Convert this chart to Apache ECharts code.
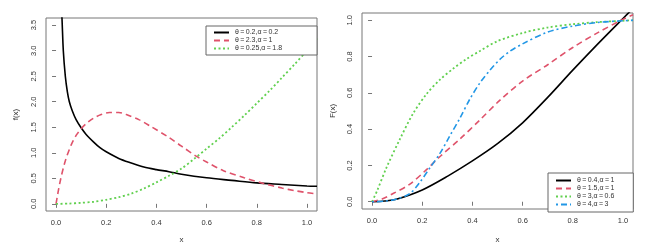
<!DOCTYPE html>
<html><head><meta charset="utf-8">
<script src="https://cdn.jsdelivr.net/npm/echarts@6/dist/echarts.min.js"></script>
<style>html,body{margin:0;padding:0;background:#fff}#c{width:658px;height:249px}</style>
</head><body><div id="c"></div>
<script>
// ---- Left panel: densities f(x)
const pdfBlackX = [0.021,0.024,0.029,0.037,0.045,0.053,0.065,0.08,0.1,0.12,0.15,0.175,0.2,0.25,0.3,0.35,0.4,0.45,0.5,0.6,0.7,0.8,0.9,1.0,1.04];
const pdfBlackY = [3.9,3.6,3.0,2.5,2.2,2.0,1.82,1.65,1.49,1.36,1.21,1.10,1.02,0.89,0.8,0.72,0.67,0.63,0.58,0.51,0.46,0.41,0.38,0.35,0.345];
const pdfRedX = [0,0.01,0.02,0.03,0.04,0.06,0.08,0.1,0.12,0.15,0.18,0.213,0.25,0.28,0.33,0.373,0.45,0.5,0.56,0.6,0.667,0.75,0.827,0.9,0.95,1.0,1.04];
const pdfRedY = [0,0.28,0.52,0.72,0.89,1.15,1.34,1.47,1.57,1.68,1.75,1.79,1.79,1.75,1.65,1.53,1.30,1.13,0.93,0.82,0.65,0.51,0.40,0.31,0.26,0.22,0.195];
const pdfGreenX = [0,0.05,0.1,0.15,0.2,0.25,0.3,0.35,0.4,0.45,0.5,0.55,0.6,0.65,0.7,0.75,0.8,0.85,0.9,0.95,1.0,1.04];
const pdfGreenY = [0,0.005,0.02,0.04,0.08,0.13,0.2,0.3,0.42,0.55,0.69,0.88,1.08,1.28,1.5,1.73,1.97,2.21,2.47,2.73,3.0,3.24];
const pdfNames = ['θ\u2009=\u20090.2,α\u2009=\u20090.2','θ\u2009=\u20092.3,α\u2009=\u20091','θ\u2009=\u20090.25,α\u2009=\u20091.8'];
const pdfTicksX = [0,0.2,0.4,0.6,0.8,1.0];
const pdfTicksY = [0,0.5,1.0,1.5,2.0,2.5,3.0,3.5];

// ---- Right panel: CDFs F(x)
const cdfBlackX = [0,0.05,0.1,0.2,0.3,0.4,0.5,0.6,0.7,0.8,0.9,1.0,1.04];
const cdfBlackY = [0,0.004,0.015,0.065,0.14,0.225,0.32,0.435,0.575,0.725,0.87,1.01,1.065];
const cdfRedX = [0,0.04,0.084,0.151,0.217,0.27,0.35,0.43,0.51,0.6,0.7,0.8,0.9,1.0,1.04];
const cdfRedY = [0,0.015,0.045,0.097,0.177,0.248,0.345,0.451,0.56,0.665,0.755,0.85,0.932,1.005,1.03];
const cdfGreenX = [0,0.02,0.057,0.111,0.164,0.217,0.27,0.324,0.377,0.43,0.5,0.6,0.7,0.8,0.9,1.0,1.04];
const cdfGreenY = [0,0.06,0.186,0.345,0.487,0.593,0.672,0.734,0.787,0.831,0.885,0.93,0.96,0.978,0.99,0.997,1.0];
const cdfBlueX = [0,0.05,0.1,0.151,0.19,0.23,0.27,0.31,0.35,0.39,0.43,0.47,0.51,0.55,0.6,0.7,0.8,0.9,1.0,1.04];
const cdfBlueY = [0,0.003,0.015,0.045,0.106,0.186,0.265,0.363,0.46,0.566,0.655,0.725,0.785,0.83,0.87,0.935,0.968,0.988,0.997,1.0];
const cdfNames = ['θ\u2009=\u20090.4,α\u2009=\u20091','θ\u2009=\u20091.5,α\u2009=\u20091','θ\u2009=\u20093,α\u2009=\u20090.6','θ\u2009=\u20094,α\u2009=\u20093'];
const cdfTicksX = [0,0.2,0.4,0.6,0.8,1.0];
const cdfTicksY = [0,0.2,0.4,0.6,0.8,1.0];

const pair = (xs, ys) => xs.map((x, i) => [x, ys[i]]);
const C_BLACK = '#000000', C_RED = '#DF536B', C_GREEN = '#61D04F', C_BLUE = '#2297E6';
const font = 'Liberation Sans, Arial, sans-serif';
const lab = {color:'#333', fontSize:7.5, fontFamily:font};

function xAx(gi, ticks, nameGap){
  return {type:'value', gridIndex:gi, min:-0.04, max:1.04, name:'x', nameLocation:'middle', nameGap:nameGap,
    nameTextStyle:{color:'#333', fontSize:8, fontFamily:font},
    axisLine:{show:false}, splitLine:{show:false},
    axisTick:{show:true, customValues:ticks, length:4, inside:false, lineStyle:{color:'#777'}},
    axisLabel:Object.assign({customValues:ticks, margin:8, formatter:v=>v.toFixed(1)}, lab)};
}
function yAx(gi, mn, mx, ticks, name, nameGap){
  return {type:'value', gridIndex:gi, min:mn, max:mx, name:name, nameLocation:'middle', nameGap:nameGap, nameRotate:90,
    nameTextStyle:{color:'#333', fontSize:8, fontFamily:font},
    axisLine:{show:false}, splitLine:{show:false},
    axisTick:{show:true, customValues:ticks, length:4, lineStyle:{color:'#777'}},
    axisLabel:Object.assign({customValues:ticks, rotate:90, margin:8, formatter:v=>v.toFixed(1)}, lab)};
}
function ser(name, xi, yi, data, color, type, w){
  return {name:name, type:'line', xAxisIndex:xi, yAxisIndex:yi, data:data, showSymbol:false, symbol:'none',
    smooth:0.3, clip:true, silent:true, animation:false,
    lineStyle:{color:color, width:w||1.6, type:type, cap:'butt'}, itemStyle:{color:color}};
}
const legendCommon = {orient:'vertical', itemWidth:15, itemHeight:8,
  itemStyle:{color:'rgba(0,0,0,0)', borderWidth:0, borderColor:'rgba(0,0,0,0)'},
  borderColor:'#666', borderWidth:1, backgroundColor:'#fff',
  textStyle:{fontSize:7, color:'#333', fontFamily:font, padding:[0,0,0,1]}};

const chart = echarts.init(document.getElementById('c'), null, {renderer:'canvas'});
chart.setOption({
  animation:false,
  backgroundColor:'#ffffff',
  grid:[
    {left:46, top:18, right:341, bottom:31, show:true, borderColor:'#777', borderWidth:1, backgroundColor:'transparent'},
    {left:362, top:13, right:25, bottom:30, show:true, borderColor:'#777', borderWidth:1, backgroundColor:'transparent'}
  ],
  xAxis:[xAx(0, pdfTicksX, 25), xAx(1, cdfTicksX, 27)],
  yAxis:[yAx(0, -0.14, 3.64, pdfTicksY, 'f(x)', 26), yAx(1, -0.04, 1.04, cdfTicksY, 'F(x)', 25)],
  legend:[
    Object.assign({data:pdfNames, left:206, top:26, padding:[3,35,3,7], itemGap:1}, legendCommon),
    Object.assign({data:cdfNames, left:548, top:173, padding:[4,19,4,7], itemGap:1}, legendCommon)
  ],
  series:[
    ser(pdfNames[0], 0, 0, pair(pdfBlackX, pdfBlackY), C_BLACK, 'solid'),
    ser(pdfNames[1], 0, 0, pair(pdfRedX, pdfRedY), C_RED, [6,4]),
    ser(pdfNames[2], 0, 0, pair(pdfGreenX, pdfGreenY), C_GREEN, [2,2.5], 1.8),
    ser(cdfNames[0], 1, 1, pair(cdfBlackX, cdfBlackY), C_BLACK, 'solid'),
    ser(cdfNames[1], 1, 1, pair(cdfRedX, cdfRedY), C_RED, [6,4]),
    ser(cdfNames[2], 1, 1, pair(cdfGreenX, cdfGreenY), C_GREEN, [2,2.5], 1.8),
    ser(cdfNames[3], 1, 1, pair(cdfBlueX, cdfBlueY), C_BLUE, [2,3,6,3])
  ]
});
</script></body></html>
